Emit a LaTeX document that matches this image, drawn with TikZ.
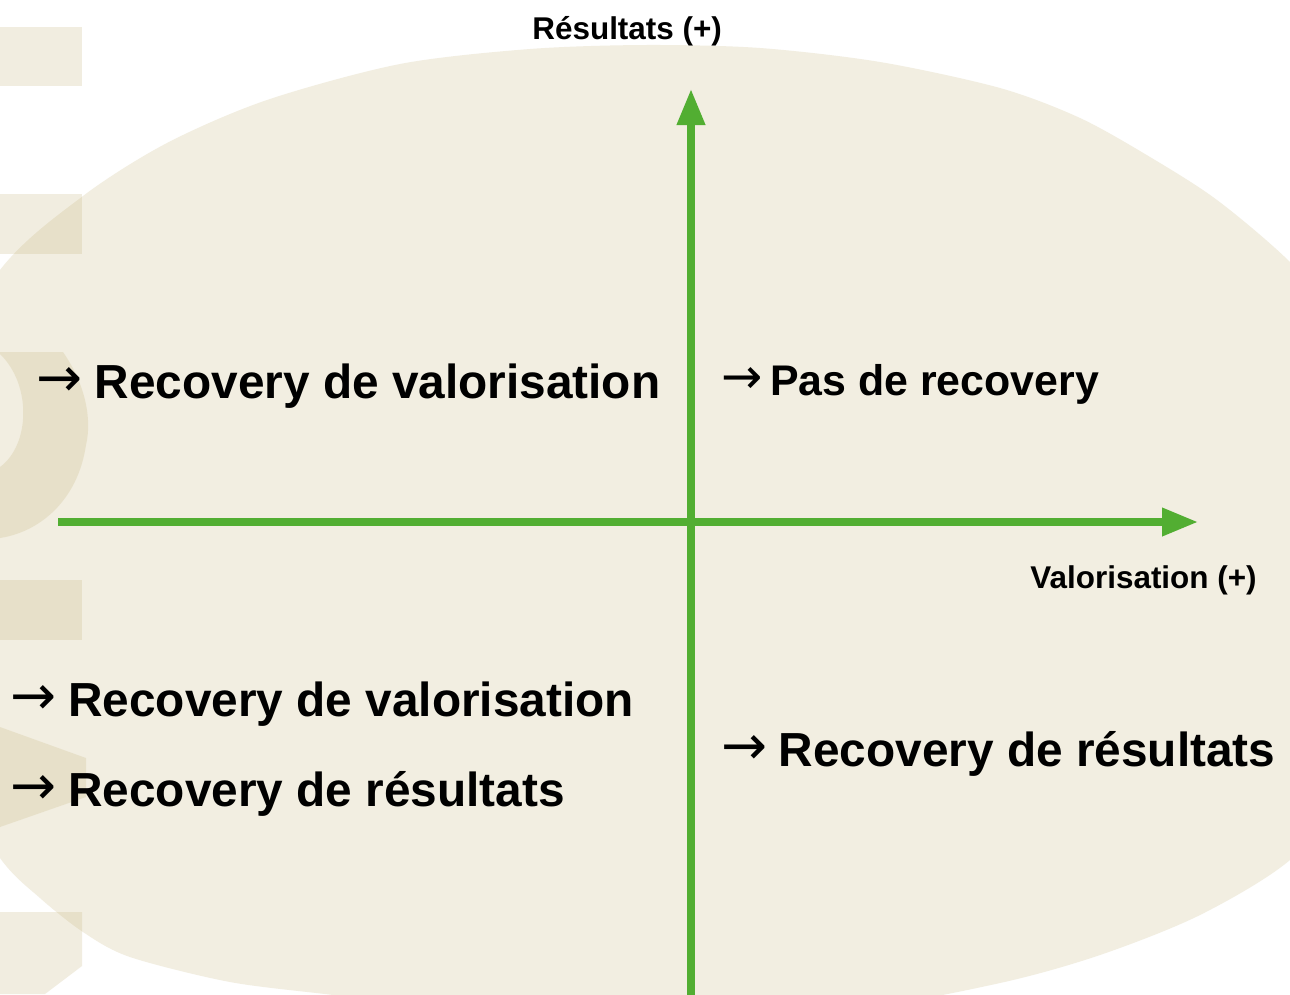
\documentclass[tikz,border=0pt]{standalone}
\usepackage{fontspec}
\setmainfont{Liberation Sans}
\newfontfamily\arrowfont{DejaVu Sans}
\usepackage{tikz}
\usetikzlibrary{arrows.meta}

\definecolor{ovalbeige}{RGB}{242,238,225}
\definecolor{markbrown}{RGB}{198,181,125}
\definecolor{axisgreen}{RGB}{82,174,50}

\newcommand{\arw}[1][1.21em]{\makebox[#1][l]{\raisebox{0.04em}{\scalebox{1.15}{\arrowfont\mdseries →}}}}

\tikzset{
  axisline/.style={draw=axisgreen, line width=4.2pt, -{Triangle[length=20.5pt,width=15.3pt]}},
  quadtxt/.style={anchor=base west, inner sep=0pt, font=\bfseries\fontsize{27.2}{30}\selectfont},
  axtxt/.style={anchor=base west, inner sep=0pt, font=\bfseries\fontsize{17.9}{20}\selectfont},
  wmark/.style={fill=markbrown, fill opacity=0.23},
}

\begin{document}
\begin{tikzpicture}[x=0.02cm, y=-0.02cm]
  \useasboundingbox (0,0) rectangle (1290,994);
  \fill[white] (0,0) rectangle (1290,994);
  \begin{scope}
    \clip (0,0) rectangle (1290,994);
    % background oval
    \fill[ovalbeige] plot[smooth cycle] coordinates {
      (-90,420) (0,270) (83,196) (167,143) (267,100) (400,64) (530,49) (646,45)
      (760,48) (880,62) (1000,88) (1080,118) (1150,157) (1217,200) (1290,262)
      (1360,340) (1420,480) (1420,640) (1360,780) (1290,860) (1200,915)
      (1100,955) (1000,983) (850,1010) (646,1022) (450,1010) (333,995)
      (230,982) (130,957) (83,932) (40,898) (0,858) (-60,760) (-100,600)};
    % watermark letters on the left
    \fill[wmark] (0,27) rectangle (82,86);
    \fill[wmark] (0,194) rectangle (82,254);
    \fill[wmark] (0,352) -- (63,352) .. controls (86,385) and (92,420) .. (86,445)
      .. controls (78,500) and (40,532) .. (0,538) -- (0,467)
      .. controls (30,445) and (32,385) .. (0,354) -- cycle;
    \fill[wmark] (0,580) rectangle (82,640);
    \fill[wmark] (0,727) -- (86,758) -- (86,797) -- (0,827) -- cycle;
    \fill[wmark] (0,912) -- (82,912) -- (82,966) -- (45,994) -- (0,994) -- cycle;
  \end{scope}

  % axes
  \coordinate (hstart) at (58,522);
  \coordinate (hend) at (1198,522);
  \coordinate (vstart) at (691,1000);
  \coordinate (vend) at (691,89);
  \draw[axisline] (hstart) -- (hend);
  \draw[axisline] (vstart) -- (vend);

  \node[axtxt] (ylab) at (532,39) {Résultats (+)};
  \node[axtxt] (xlab) at (1030,588) {Valorisation (+)};

  % quadrants
  \node[quadtxt] (q1) at (36,398) {\arw[1.22em]Recovery de valorisation};
  \node[quadtxt, font=\bfseries\fontsize{24.4}{28}\selectfont] (q2) at (721,395) {\arw[1.14em]Pas de recovery};
  \node[quadtxt] (q3a) at (10,716) {\arw Recovery de valorisation};
  \node[quadtxt] (q3b) at (10,806) {\arw Recovery de résultats};
  \node[quadtxt] (q4) at (721,766) {\arw[1.2em]Recovery de résultats};
\end{tikzpicture}
\end{document}
